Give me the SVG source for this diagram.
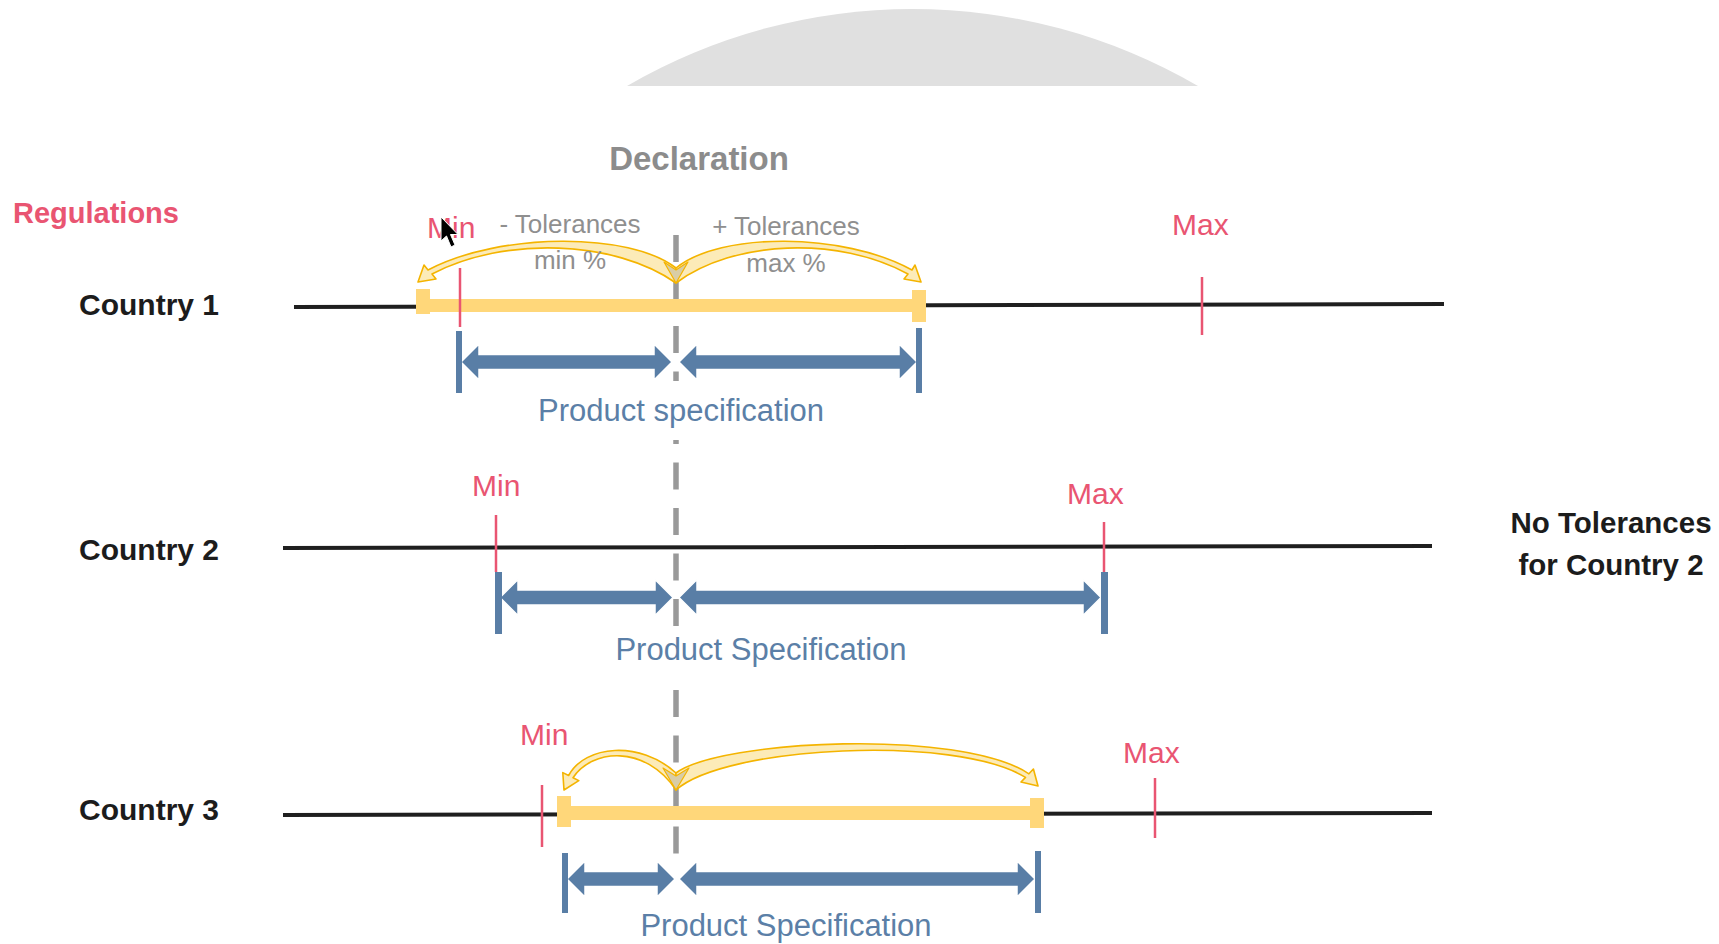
<svg xmlns="http://www.w3.org/2000/svg" width="1719" height="944" viewBox="0 0 1719 944">
<style>
.lbl{font-family:"Liberation Sans",Arial,sans-serif;font-weight:bold;fill:#1c1c1c;font-size:30px}
.red{font-family:"Liberation Sans",Arial,sans-serif;fill:#E95572;font-size:30px}
.gry{font-family:"Liberation Sans",Arial,sans-serif;fill:#8f8f8f;font-size:26px}
.blu{font-family:"Liberation Sans",Arial,sans-serif;fill:#5B7FA7;font-size:31px}
.axis{stroke:#1f1f1f;stroke-width:4;fill:none}
.tick{stroke:#E95572;stroke-width:2.5}
.ybar{fill:#FFD77A}
.yarr{fill:#FCEBB8;stroke:#F4B400;stroke-width:1.6;stroke-linejoin:round}
.barr{fill:#597EA6;stroke:#ffffff;stroke-width:1.5;stroke-linejoin:miter}
.bbar{fill:#597EA6}
</style>
<rect width="1719" height="944" fill="#ffffff"/>
<path id="dome" d="M627 86 A568 568 0 0 1 1198 86 Z" fill="#e0e0e0"/>
<text x="13" y="223" class="lbl" style="fill:#E95572;font-size:29px">Regulations</text>
<text x="699" y="170" text-anchor="middle" class="lbl" style="fill:#8c8c8c;font-size:33px">Declaration</text>

<g id="axes">
<line x1="294" y1="307" x2="1444" y2="304" class="axis"/>
<line x1="283" y1="548" x2="1432" y2="546" class="axis"/>
<line x1="283" y1="815" x2="1432" y2="813" class="axis"/>
</g>

<g id="declaration-line">
<line x1="676" y1="235" x2="676" y2="854" stroke="#999999" stroke-width="5.5" stroke-dasharray="27 18.5"/>
<rect x="664" y="381" width="24" height="59" fill="#ffffff"/>
<rect x="664" y="627" width="24" height="55" fill="#ffffff"/>
</g>

<g id="country1">
<text x="79" y="315" class="lbl">Country 1</text>
<rect x="417" y="299" width="508" height="13" class="ybar"/>
<rect x="416" y="289" width="14" height="25" class="ybar"/>
<rect x="912" y="290" width="14" height="32" class="ybar"/>
<path class="yarr" d="M676 283 C615 240 505 236 432 274 L436 279 L418 282 L424 265 L428 270 C500 232 630 232 676 268 Z"/>
<path class="yarr" d="M676 283 C734 240 838 236 908 274 L904 279 L921 282 L915 265 L912 270 C843 232 720 232 676 268 Z"/>
<path d="M676 283 L664 262 L676 270 L688 262 Z" fill="#D9CDA6" stroke="#F4B400" stroke-width="1.2" stroke-linejoin="round"/>
<line x1="460" y1="268" x2="460" y2="327" class="tick"/>
<line x1="1202" y1="277" x2="1202" y2="335" class="tick"/>
<text x="427" y="238" class="red">Min</text>
<text x="1172" y="235" class="red">Max</text>
<text x="570" y="233" text-anchor="middle" class="gry">- Tolerances</text>
<text x="570" y="269" text-anchor="middle" class="gry">min %</text>
<text x="786" y="235" text-anchor="middle" class="gry">+ Tolerances</text>
<text x="786" y="272" text-anchor="middle" class="gry">max %</text>
<polygon class="barr" points="461,362 479,344 479,354.5 654,354.5 654,344 672,362 654,380 654,369.5 479,369.5 479,380"/>
<polygon class="barr" points="679,362 697,344 697,354.5 899,354.5 899,344 917,362 899,380 899,369.5 697,369.5 697,380"/>
<rect x="456" y="331" width="6" height="62" class="bbar"/>
<rect x="916" y="328" width="6" height="65" class="bbar"/>
<text x="681" y="421" text-anchor="middle" class="blu">Product specification</text>
</g>

<g id="country2">
<text x="79" y="560" class="lbl">Country 2</text>
<line x1="496" y1="515" x2="496" y2="572" class="tick"/>
<line x1="1104" y1="522" x2="1104" y2="572" class="tick"/>
<text x="472" y="496" class="red">Min</text>
<text x="1067" y="504" class="red">Max</text>
<polygon class="barr" points="500,597.5 518,579.5 518,590 655,590 655,579.5 673,597.5 655,615.5 655,605 518,605 518,615.5"/>
<polygon class="barr" points="679,597.5 697,579.5 697,590 1083,590 1083,579.5 1101,597.5 1083,615.5 1083,605 697,605 697,615.5"/>
<rect x="495" y="572" width="7" height="62" class="bbar"/>
<rect x="1101" y="572" width="7" height="62" class="bbar"/>
<text x="761" y="660" text-anchor="middle" class="blu">Product Specification</text>
<text x="1611" y="533" text-anchor="middle" class="lbl" style="font-size:29.5px">No Tolerances</text>
<text x="1611" y="575" text-anchor="middle" class="lbl" style="font-size:29.5px">for Country 2</text>
</g>

<g id="country3">
<text x="79" y="820" class="lbl">Country 3</text>
<rect x="558" y="806" width="485" height="14" class="ybar"/>
<rect x="557" y="796" width="14" height="31" class="ybar"/>
<rect x="1030" y="798" width="14" height="30" class="ybar"/>
<path class="yarr" d="M676 790 C645 744 592 749 573 777.7 L578.8 780.6 L564 790 L562.8 772.6 L568.6 775.5 C585 745 640 740 676 773 Z"/>
<path class="yarr" d="M676 790 C725 746 955 734 1025.5 777.4 L1021 782 L1038 786 L1033.4 769 L1028.9 773.8 C960 728 720 740 676 773 Z"/>
<path d="M676 790 L663 768 L676 776 L689 768 Z" fill="#D9CDA6" stroke="#F4B400" stroke-width="1.2" stroke-linejoin="round"/>
<line x1="542" y1="785" x2="542" y2="847" class="tick"/>
<line x1="1155" y1="778" x2="1155" y2="838" class="tick"/>
<text x="520" y="745" class="red">Min</text>
<text x="1123" y="763" class="red">Max</text>
<polygon class="barr" points="567,879 585,861 585,871.5 657,871.5 657,861 675,879 657,897 657,886.5 585,886.5 585,897"/>
<polygon class="barr" points="679,879 697,861 697,871.5 1017,871.5 1017,861 1035,879 1017,897 1017,886.5 697,886.5 697,897"/>
<rect x="562" y="853" width="6" height="60" class="bbar"/>
<rect x="1035" y="851" width="6" height="62" class="bbar"/>
<text x="786" y="936" text-anchor="middle" class="blu">Product Specification</text>
</g>

<polygon id="cursor" points="441,217 441,241 446.5,236 451,247 455,245 450.5,234.5 458,234.5" fill="#000000" stroke="#ffffff" stroke-width="1"/>
</svg>
